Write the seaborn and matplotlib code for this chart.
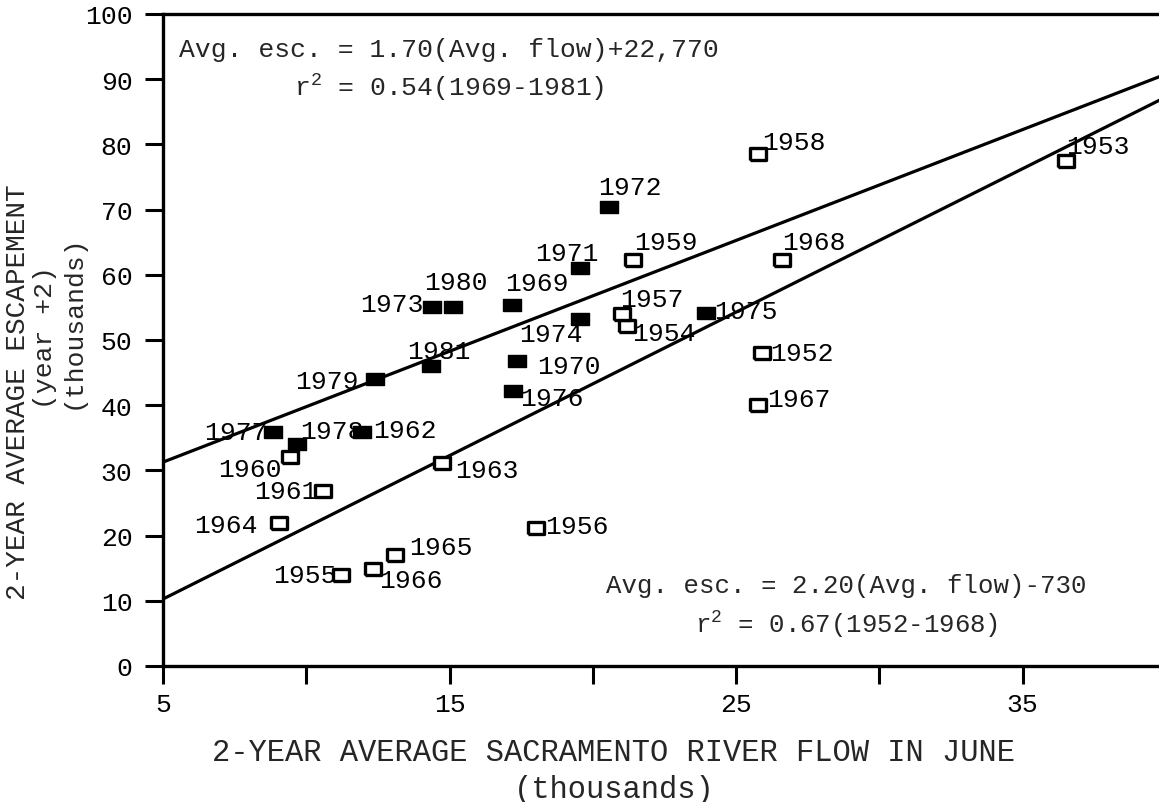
import numpy as np
import pandas as pd
import seaborn as sns
import matplotlib.pyplot as plt
from matplotlib.ticker import FixedLocator

# 2-year average June flow (thousands) and escapement (thousands)
years = [1952, 1953, 1954, 1955, 1956, 1957, 1958, 1959, 1960, 1961,
         1962, 1963, 1964, 1965, 1966, 1967, 1968,
         1969, 1970, 1971, 1972, 1973, 1974, 1975, 1976, 1977,
         1978, 1979, 1980, 1981]
flow = [25.90, 36.52, 21.18, 11.20, 18.01, 21.01, 25.78, 21.42, 9.43, 10.57,
        11.94, 14.73, 9.06, 13.10, 12.32, 25.78, 26.62,
        17.19, 17.35, 19.55, 20.57, 14.38, 19.55, 23.95, 17.23, 8.85,
        9.69, 12.40, 15.11, 14.34]
escapement = [48.0, 77.5, 52.2, 14.0, 21.2, 54.0, 78.5, 62.3, 32.0, 26.9,
              35.9, 31.1, 21.9, 17.1, 14.9, 40.1, 62.3,
              55.3, 46.8, 61.1, 70.4, 55.1, 53.2, 54.1, 42.2, 35.9,
              34.0, 44.0, 55.0, 46.0]
# filled symbols in the figure (1962 is printed filled as well)
filled_years = [1962] + list(range(1969, 1982))

# regression lines: (slope, intercept in thousands)
fit_late = (1.70, 22.77)
fit_early = (2.20, -0.73)

# label placement (pixel offsets from the point, horizontal alignment)
label_offsets = {
    1952: (8, 0, "left"), 1953: (0, 15, "left"), 1954: (6, -7, "left"),
    1955: (-4, 0, "right"), 1956: (9, 2, "left"), 1957: (-2, 15, "left"),
    1958: (4, 12, "left"), 1959: (1, 18, "left"), 1960: (-8, -12, "right"),
    1961: (-5, 0, "right"), 1962: (11, 2, "left"), 1963: (13, -7, "left"),
    1964: (-22, -2, "right"), 1965: (14, 8, "left"), 1966: (6, -11, "left"),
    1967: (9, 6, "left"), 1968: (0, 18, "left"), 1969: (-7, 22, "left"),
    1970: (20, -5, "left"), 1971: (-13, 15, "center"), 1972: (-11, 20, "left"),
    1973: (-8, 3, "right"), 1974: (-29, -15, "center"), 1975: (8, 2, "left"),
    1976: (7, -7, "left"), 1977: (-6, 0, "right"), 1978: (3, 13, "left"),
    1979: (-16, -2, "right"), 1980: (3, 25, "center"), 1981: (8, 15, "center"),
}

df = pd.DataFrame({"year": years, "flow": flow, "esc": escapement})
df["filled"] = df["year"].isin(filled_years)

sns.set_theme(style="white")
plt.rcParams["font.family"] = ["Liberation Mono", "DejaVu Sans Mono"]
plt.rcParams["mathtext.fontset"] = "custom"
plt.rcParams["mathtext.rm"] = "Liberation Mono"
plt.rcParams["mathtext.it"] = "Liberation Mono"
plt.rcParams["mathtext.default"] = "regular"

fig = plt.figure(figsize=(11.59, 8.03), dpi=100)
ax = fig.add_axes([163 / 1159, 136 / 803, 996 / 1159, 652 / 803])

rect = [(-1, -0.72), (1, -0.72), (1, 0.72), (-1, 0.72), (-1, -0.72)]
sns.scatterplot(data=df[df["filled"]], x="flow", y="esc", ax=ax, marker=rect,
                s=160, color="black", edgecolor="black", linewidth=1, zorder=4)
sns.scatterplot(data=df[~df["filled"]], x="flow", y="esc", ax=ax, marker=rect,
                s=130, color="white", edgecolor="black", linewidth=2.4, zorder=4)

xs = np.array([5, 40])
for slope, icpt in (fit_late, fit_early):
    ax.plot(xs, slope * xs + icpt, color="black", lw=2.3, zorder=3)

for _, row in df.iterrows():
    dx, dy, ha = label_offsets[row["year"]]
    ax.annotate(str(row["year"]), (row["flow"], row["esc"]), xytext=(dx, dy),
                textcoords="offset pixels", ha=ha, va="center",
                fontsize=19, color="black", zorder=5)

ax.text(0.287, 0.915, "Avg. esc. = 1.70(Avg. flow)+22,770\nr$^2$ = 0.54(1969-1981)",
        transform=ax.transAxes, ha="center", va="center", fontsize=19,
        multialignment="center", linespacing=1.4)
ax.text(0.686, 0.092, "Avg. esc. = 2.20(Avg. flow)-730\nr$^2$ = 0.67(1952-1968)",
        transform=ax.transAxes, ha="center", va="center", fontsize=18.5,
        multialignment="center", linespacing=1.45)

ax.set_xlim(5, 39.76)
ax.set_ylim(0, 100)
ax.xaxis.set_major_locator(FixedLocator([5, 15, 25, 35]))
ax.xaxis.set_minor_locator(FixedLocator([10, 20, 30]))
ax.set_yticks(np.arange(0, 101, 10))
ax.tick_params(axis="both", which="both", direction="out", length=13, width=2.2,
               color="black", labelsize=19, labelcolor="black")
ax.tick_params(axis="x", which="both", bottom=True, pad=6)
ax.tick_params(axis="y", left=True, pad=9)

for side in ("left", "bottom", "top"):
    ax.spines[side].set_visible(True)
    ax.spines[side].set_color("black")
    ax.spines[side].set_linewidth(2.4)
ax.spines["right"].set_visible(False)

ax.set_xlabel("")
ax.set_ylabel("")
fig.text(614 / 1159, 1 - 753 / 803, "2-YEAR AVERAGE SACRAMENTO RIVER FLOW IN JUNE",
         ha="center", va="center", fontsize=22)
fig.text(614 / 1159, 1 - 790 / 803, "(thousands)", ha="center", va="center", fontsize=22)
fig.text(18 / 1159, 1 - 392 / 803, "2-YEAR AVERAGE ESCAPEMENT", rotation=90,
         ha="center", va="center", fontsize=20)
fig.text(45 / 1159, 1 - 338 / 803, "(year +2)", rotation=90,
         ha="center", va="center", fontsize=19)
fig.text(73 / 1159, 1 - 322 / 803, "(thousands)", rotation=90,
         ha="center", va="center", fontsize=19)

ax.grid(False)
fig.savefig("out.png", dpi=100, facecolor="white")
plt.close(fig)
